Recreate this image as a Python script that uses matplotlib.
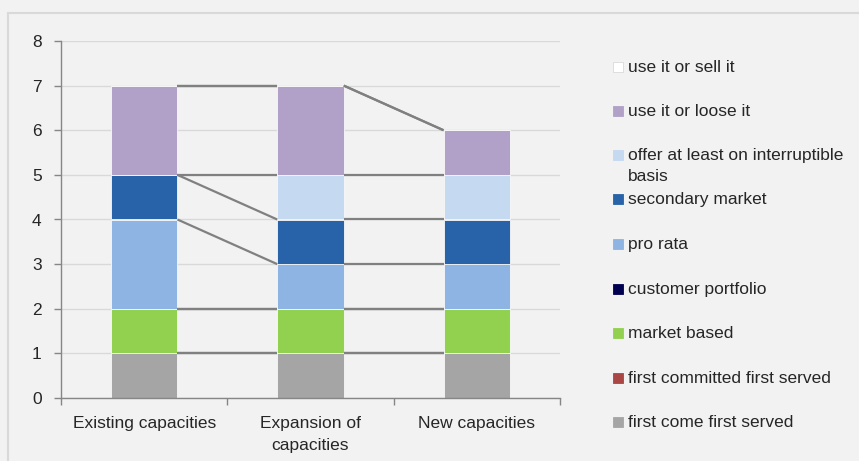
import numpy as np
import matplotlib
matplotlib.use("Agg")
import matplotlib.pyplot as plt
from matplotlib.patches import Rectangle

plt.rcParams['font.family'] = ['Liberation Sans', 'DejaVu Sans']

# categories and series (bottom to top of each stack)
categories = ["Existing capacities", "Expansion of\ncapacities", "New capacities"]
series_names = ["first come first served", "first committed first served", "market based",
                "customer portfolio", "pro rata", "secondary market",
                "offer at least on interruptible\nbasis", "use it or loose it", "use it or sell it"]
first_come = [1, 1, 1]
first_committed = [0, 0, 0]
market_based = [1, 1, 1]
customer_portfolio = [0, 0, 0]
pro_rata = [2, 1, 1]
secondary_market = [1, 1, 1]
offer_interruptible = [0, 1, 1]
use_or_loose = [2, 2, 1]
use_or_sell = [0, 0, 0]
series_values = [first_come, first_committed, market_based, customer_portfolio, pro_rata,
                 secondary_market, offer_interruptible, use_or_loose, use_or_sell]
series_colors = ["#a5a5a5", "#aa4643", "#92d050", "#000050", "#8db4e2",
                 "#2862a8", "#c5d9f1", "#b1a0c7", "#ffffff"]

W, H = 859, 461
bg = "#f2f2f2"
fig = plt.figure(figsize=(W / 100, H / 100), dpi=100, facecolor=bg)

# outer chart frame (runs off the right and bottom edges)
fig.patches.append(Rectangle((8 / W, -0.05), 1.1, 1.05 - 13 / H, transform=fig.transFigure,
                             facecolor="none", edgecolor="#d9d9d9", linewidth=1.5))

ax = fig.add_axes([61 / W, (H - 398) / H, (560 - 61) / W, (398 - 41) / H], facecolor=bg)

x = np.arange(len(categories))
bar_w = 0.4
bottom = np.zeros(len(categories))
tops = []
for name, vals, col in zip(series_names, series_values, series_colors):
    vals = np.array(vals, dtype=float)
    ax.bar(x, vals, bar_w, bottom=bottom, color=col, edgecolor="#f8f8f8",
           linewidth=0.6, zorder=2)
    bottom = bottom + vals
    tops.append(bottom.copy())

# series lines between bars
for top in tops:
    for i in range(len(categories) - 1):
        ax.plot([x[i] + bar_w / 2, x[i + 1] - bar_w / 2], [top[i], top[i + 1]],
                color="#808080", linewidth=1.6, zorder=3, solid_capstyle="butt")

ax.set_xlim(-0.5, len(categories) - 0.5)
ax.set_ylim(0, 8)
ax.set_yticks(range(0, 9))
ax.yaxis.grid(True, color="#d9d9d9", linewidth=1)
ax.set_axisbelow(True)
ax.set_xticks(x)
ax.set_xticklabels(categories, fontsize=12.5, color="#262626", linespacing=1.55)
ax.set_xticks(np.arange(-0.5, len(categories)), minor=True)
ax.tick_params(axis="x", which="major", length=0, pad=13)
ax.tick_params(axis="x", which="minor", length=5, color="#868686", width=1)
ax.tick_params(axis="y", length=5, color="#868686", width=1, labelsize=12.5,
               labelcolor="#262626", pad=9)
for s in ["top", "right"]:
    ax.spines[s].set_visible(False)
for s in ["left", "bottom"]:
    ax.spines[s].set_color("#868686")
    ax.spines[s].set_linewidth(1)

# legend, top to bottom
legend_y = [67, 111, 155, 199, 244, 289, 333, 378, 422]
for yy, name, col in zip(legend_y, series_names[::-1], series_colors[::-1]):
    fig.patches.append(Rectangle((613 / W, 1 - (yy + 5) / H), 10 / W, 10 / H,
                                 transform=fig.transFigure, facecolor=col,
                                 edgecolor="#d9d9d9" if col == "#ffffff" else col,
                                 linewidth=0.6))
    fig.text(628 / W, 1 - (yy - 7) / H, name, fontsize=12.5, color="#262626",
             va="top", ha="left", linespacing=1.5)

fig.savefig("out.png", dpi=100, facecolor=bg)
